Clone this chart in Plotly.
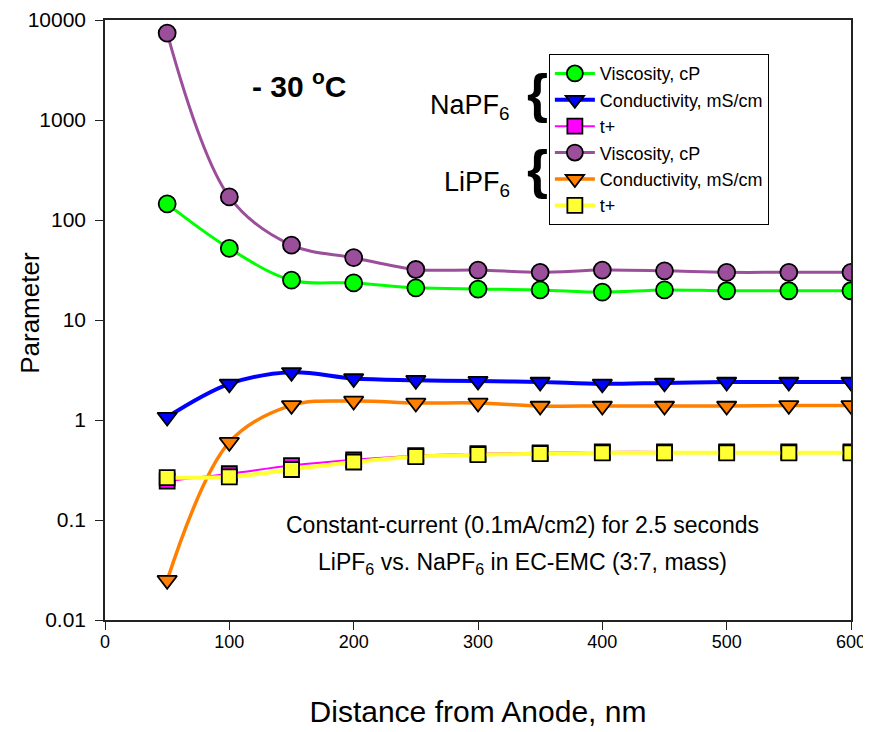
import plotly.graph_objects as go

distance = [50, 100, 150, 200, 250, 300, 350, 400, 450, 500, 550, 600]

na_viscosity = [145, 52, 25, 23.5, 21, 20.4, 20, 19, 20, 19.6, 19.6, 19.6]
na_conductivity = [1.07, 2.3, 3.0, 2.6, 2.5, 2.45, 2.4, 2.3, 2.35, 2.4, 2.4, 2.4]
na_tplus = [0.245, 0.29, 0.35, 0.40, 0.44, 0.46, 0.47, 0.48, 0.48, 0.48, 0.48, 0.48]

li_viscosity = [7400, 170, 56, 42, 32, 31.6, 30, 31.6, 31, 30, 30, 30]
li_conductivity = [0.025, 0.6, 1.4, 1.55, 1.48, 1.48, 1.38, 1.38, 1.38, 1.38, 1.4, 1.4]
li_tplus = [0.265, 0.27, 0.32, 0.38, 0.43, 0.45, 0.46, 0.47, 0.47, 0.47, 0.47, 0.47]

y_tickvals = [0.01, 0.1, 1, 10, 100, 1000, 10000]
y_ticktext = ["0.01", "0.1", "1", "10", "100", "1000", "10000"]
x_tickvals = [0, 100, 200, 300, 400, 500, 600]

FONT = "Liberation Sans, Arial, sans-serif"

series = [
    ("Viscosity, cP", na_viscosity, "#00ff00", "circle", 17, 3),
    ("Conductivity, mS/cm", na_conductivity, "#0000ff", "triangle-down", 17, 4),
    ("t+", na_tplus, "#ff00ff", "square", 15, 2),
    ("Viscosity, cP", li_viscosity, "#9b4f9b", "circle", 17, 3),
    ("Conductivity, mS/cm", li_conductivity, "#ff7f00", "triangle-down", 17, 3.5),
    ("t+", li_tplus, "#ffff33", "square", 15, 4),
]

fig = go.Figure()
for name, vals, color, sym, size, lw in series:
    fig.add_trace(go.Scatter(
        x=distance, y=vals, name=name, mode="lines+markers",
        line=dict(color=color, width=lw, shape="spline", smoothing=1.0),
        marker=dict(symbol=sym, size=size, color=color,
                    line=dict(color="black", width=1.8)),
    ))

# page body adds an 8px offset; margins compensate for it
fig.update_layout(
    width=863, height=724,
    margin=dict(l=97, r=20, t=12, b=112),
    paper_bgcolor="white", plot_bgcolor="white",
    font=dict(family=FONT, color="black"),
    showlegend=True,
    legend=dict(
        x=0.595, y=0.943, xanchor="left", yanchor="top",
        bordercolor="black", borderwidth=1, bgcolor="white",
        font=dict(size=18, family=FONT), itemwidth=40, tracegroupgap=0,
    ),
)

fig.update_xaxes(
    range=[0, 600], tickvals=x_tickvals, ticks="outside", ticklen=8,
    tickcolor="#222", tickwidth=1.2, automargin=False, ticklabelstandoff=-3,
    showline=True, linecolor="#222", linewidth=1.5, mirror=True,
    showgrid=False, zeroline=False,
    tickfont=dict(size=18, family=FONT),
    title=dict(text="Distance from Anode, nm", font=dict(size=30, family=FONT), standoff=50),
)
fig.update_yaxes(
    type="log", range=[-2, 4], tickvals=y_tickvals, ticktext=y_ticktext,
    ticks="outside", ticklen=8, tickcolor="#222", tickwidth=1.2, automargin=False,
    ticklabelstandoff=5,
    showline=True, linecolor="#222", linewidth=1.5, mirror=True,
    showgrid=False, zeroline=False,
    tickfont=dict(size=21, family=FONT),
)

annotations = [
    dict(x=-0.1005, y=0.512, text="Parameter", font=dict(size=26), textangle=-90),
    dict(x=0.261, y=0.894, text="<b>- 30 <sup>o</sup>C</b>", font=dict(size=30)),
    dict(x=0.559, y=0.158, text="Constant-current (0.1mA/cm2) for 2.5 seconds", font=dict(size=23)),
    dict(x=0.559, y=0.095, text="LiPF<sub>6</sub> vs. NaPF<sub>6</sub> in EC-EMC (3:7, mass)", font=dict(size=23)),
    dict(x=0.580, y=0.878, text="<b>{</b>", font=dict(size=54)),
    dict(x=0.580, y=0.752, text="<b>{</b>", font=dict(size=54)),
    dict(x=0.546, y=0.855, text="NaPF<sub>6</sub>", font=dict(size=27), xanchor="right"),
    dict(x=0.546, y=0.726, text="LiPF<sub>6</sub>", font=dict(size=27), xanchor="right"),
]
for a in annotations:
    a.setdefault("xanchor", "center")
    fig.add_annotation(xref="paper", yref="paper", showarrow=False,
                       yanchor="middle", font_family=FONT, font_color="black", **a)

fig.write_html("out.html")
